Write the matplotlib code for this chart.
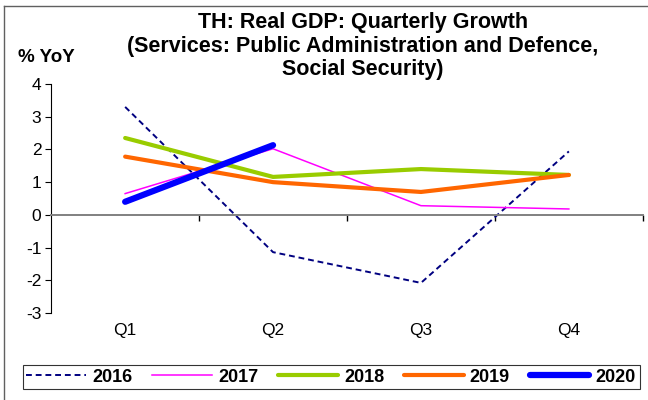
import matplotlib.pyplot as plt
from matplotlib.lines import Line2D
import numpy as np

plt.rcParams['font.family'] = ['Liberation Sans', 'DejaVu Sans']
plt.rcParams['axes.unicode_minus'] = False

quarters = ["Q1", "Q2", "Q3", "Q4"]
y2016 = [3.3, -1.14, -2.08, 1.94]
y2017 = [0.65, 2.02, 0.28, 0.18]
y2018 = [2.35, 1.16, 1.4, 1.22]
y2019 = [1.78, 1.0, 0.7, 1.22]
y2020 = [0.4, 2.13]

fig = plt.figure(figsize=(6.48, 4.0), dpi=100)
ax = fig.add_axes([0.079, 0.2175, 0.913, 0.5725])

x = np.arange(len(quarters))
ax.plot(x, y2016, color='#000080', lw=1.4, ls=(0, (3, 2)), label='2016')
ax.plot(x, y2017, color='#FF00FF', lw=1.1, label='2017')
ax.plot(x, y2018, color='#99CC00', lw=3.0, solid_capstyle='round', label='2018')
ax.plot(x, y2019, color='#FF6600', lw=3.0, solid_capstyle='round', label='2019')
ax.plot(x[:len(y2020)], y2020, color='#0000FF', lw=4.5, solid_capstyle='round', label='2020')

ax.set_xlim(-0.5, len(quarters) - 0.5)
ax.set_ylim(-3, 4)
ax.set_yticks(range(-3, 5))
ax.tick_params(axis='y', direction='out', length=4, width=0.8, labelsize=12.5, pad=3)

# category axis sits on zero, ticks at the category boundaries
ax.spines['bottom'].set_position(('data', 0))
ax.spines['bottom'].set_color('#808080')
ax.spines['bottom'].set_linewidth(1.4)
ax.spines['top'].set_visible(False)
ax.spines['right'].set_visible(False)
ax.spines['left'].set_linewidth(0.8)
ax.set_xticks(x + 0.5)
ax.set_xticklabels([])
ax.tick_params(axis='x', direction='out', length=4, width=1, color='black')
for i, q in enumerate(quarters):
    ax.text(i, -3.3, q, ha='center', va='top', fontsize=12.5, clip_on=False)

fig.text(0.56, 0.97, "TH: Real GDP: Quarterly Growth\n(Services: Public Administration and Defence,\nSocial Security)",
         ha='center', va='top', fontsize=15.5, fontweight='bold', linespacing=1.17)
fig.text(0.028, 0.857, "% YoY", ha='left', va='center', fontsize=13.5, fontweight='bold')

handles, labels = ax.get_legend_handles_labels()
leg = fig.legend(handles, labels, loc='center', bbox_to_anchor=(0.511, 0.0575), ncol=5,
                 frameon=True, fancybox=False, edgecolor='black', handlelength=3.3,
                 handletextpad=0.35, columnspacing=1.1, borderpad=0.2,
                 prop={'weight': 'bold', 'size': 13})
leg.get_frame().set_linewidth(0.8)

# outer chart border (left and top edges visible)
fig.add_artist(Line2D([0.006, 0.006], [0, 0.985], color='#606060', lw=1.0, transform=fig.transFigure))
fig.add_artist(Line2D([0.006, 1.0], [0.985, 0.985], color='#606060', lw=1.0, transform=fig.transFigure))

fig.savefig('out.png', dpi=100)
